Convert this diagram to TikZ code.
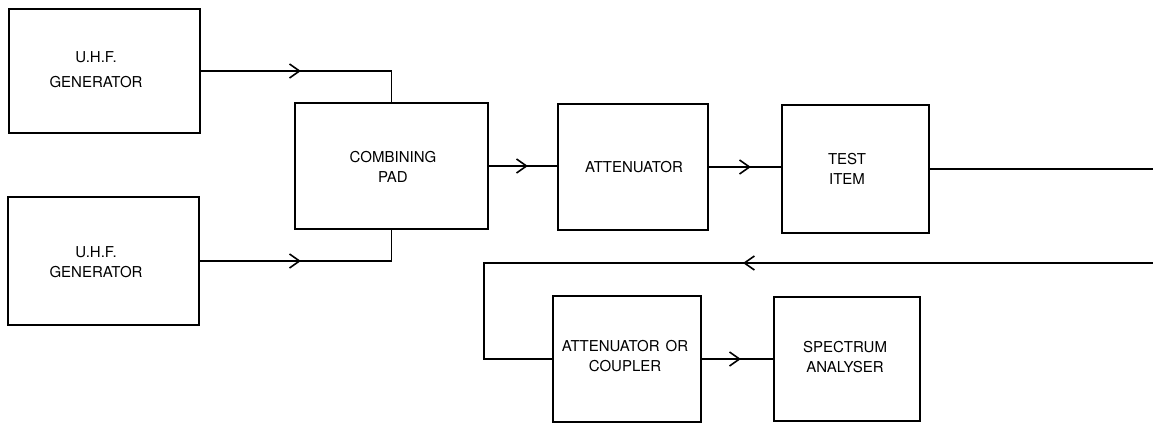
\documentclass[tikz,border=0pt]{standalone}
\usepackage{fontspec}
\setmainfont{TeX Gyre Heros}
\usetikzlibrary{arrows.meta,decorations.markings}
\tikzset{
  blk/.style={draw, line width=1.8pt, inner sep=0pt},
  lbl/.style={align=center, font=\fontsize{15}{20}\selectfont, inner sep=0pt},
  conn/.style={line width=1.8pt},
  midtip/.style={postaction={decorate, decoration={markings,
      mark=at position #1 with {\arrow{Straight Barb[length=10pt,width=14pt,line width=1.6pt]}}}}}
}
\begin{document}
\begin{tikzpicture}[x=1pt,y=-1pt]
\useasboundingbox (0,0) rectangle (1153,423);
% boxes
\node[blk, minimum width=191pt, minimum height=124pt] (g1) at (104.5,71) {};
\node[blk, minimum width=191pt, minimum height=128pt] (g2) at (103.5,261) {};
\node[blk, minimum width=193pt, minimum height=126pt] (pad) at (391.5,166) {};
\node[blk, minimum width=150pt, minimum height=126pt] (att) at (633,167) {};
\node[blk, minimum width=147pt, minimum height=128pt] (test) at (855.5,169) {};
\node[blk, minimum width=148pt, minimum height=126pt] (cp) at (627,359) {};
\node[blk, minimum width=146pt, minimum height=124pt] (sa) at (847,359) {};
% labels
\node[lbl] (g1l) at (96,70) {U.H.F.\\[5pt]GENERATOR};
\node[lbl] (g2l) at (96,262) {U.H.F.\\GENERATOR};
\node[lbl] (padl) at (393,166.5) {COMBINING\\PAD};
\node[lbl] (attl) at (634,167) {ATTENUATOR};
\node[lbl] (testl) at (847,168.5) {TEST\\ITEM};
\node[lbl] (cpl) at (625,356.5) {ATTENUATOR\hspace{6pt}OR\\COUPLER};
\node[lbl] (sal) at (845,357) {SPECTRUM\\ANALYSER};
% free ends
\coordinate (e1) at (1153,169);
\coordinate (r1) at (1153,263);
\coordinate (r2) at (484,263);
% connectors
\draw[conn, midtip=100pt] (g1.east) -| (pad.north);
\draw[conn, midtip=101pt] (g2.east) -| (pad.south);
\draw[conn, midtip=39pt] (pad.east) -- (pad.east -| att.west);
\draw[conn, midtip=42pt] (att.east) -- (att.east -| test.west);
\draw[conn] (test.east) -- (e1);
\draw[conn, midtip=410pt] (r1) -- (r2) |- (cp.west);
\draw[conn, midtip=39pt] (cp.east) -- (cp.east -| sa.west);
\end{tikzpicture}
\end{document}
